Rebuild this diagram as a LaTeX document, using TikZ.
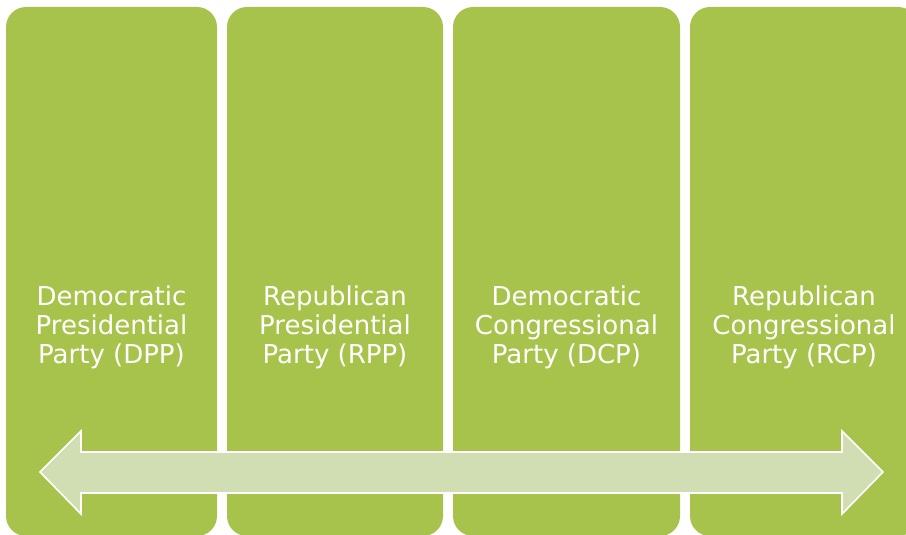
\documentclass[tikz,border=0pt]{standalone}
\usepackage{fontspec}
\setmainfont{DejaVu Sans}
\definecolor{leaf}{HTML}{A8C34C}
\definecolor{paleleaf}{HTML}{D1DEB4}
\begin{document}
\begin{tikzpicture}[x=1pt,y=-1pt,
  column/.style={fill=leaf, rounded corners=20pt},
  label/.style={text=white, align=center, inner sep=0pt,
    font=\fontsize{26}{29}\selectfont},
  band/.style={fill=paleleaf, draw=white, line width=1.6pt, line join=miter}]
\useasboundingbox (0,0) rectangle (906,535);
\begin{scope}
\clip (0,0) rectangle (906,535);
% four party columns
\fill[column] (6,7) rectangle (217,536);
\fill[column] (227,7) rectangle (443,536);
\fill[column] (453,7) rectangle (680,536);
\fill[column] (690,7) rectangle (918,536);
\coordinate (c1) at (111.5,327);
\coordinate (c2) at (335,327);
\coordinate (c3) at (566.5,327);
\coordinate (c4) at (804,327);
\node[label] (t1) at (c1) {Democratic\\Presidential\\Party (DPP)};
\node[label] (t2) at (c2) {Republican\\Presidential\\Party (RPP)};
\node[label] (t3) at (c3) {Democratic\\Congressional\\Party (DCP)};
\node[label] (t4) at (c4) {Republican\\Congressional\\Party (RCP)};
% double-headed spectrum arrow
\draw[band] (40,472) -- (81,431) -- (81,452) -- (842,452) -- (842,431)
  -- (883,472) -- (842,514) -- (842,493) -- (81,493) -- (81,514) -- cycle;
\end{scope}
\end{tikzpicture}
\end{document}
